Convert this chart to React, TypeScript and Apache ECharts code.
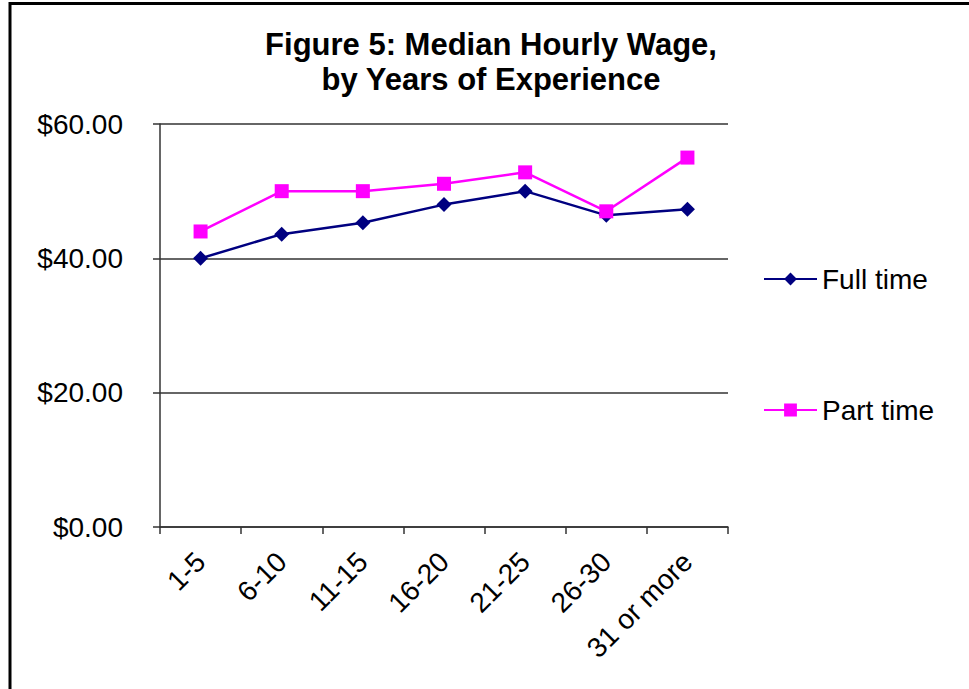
import React, { useEffect, useRef } from "react";
import * as echarts from "echarts";

const categories = ["1-5", "6-10", "11-15", "16-20", "21-25", "26-30", "31 or more"];
const fullTime = [40.0, 43.6, 45.3, 48.0, 50.0, 46.4, 47.3];
const partTime = [44.0, 50.0, 50.0, 51.1, 52.8, 47.0, 55.0];
const yTicks = [0, 20, 40, 60];
const titleText = "Figure 5: Median Hourly Wage,\nby Years of Experience";

const FONT = "'Liberation Sans', Arial, Helvetica, sans-serif";

export default function App() {
  const ref = useRef<HTMLDivElement>(null);
  useEffect(() => {
    if (!ref.current) return;
    const chart = echarts.init(ref.current, null, { renderer: "svg" });
    chart.setOption({
      animation: false,
      backgroundColor: "#ffffff",
      textStyle: { fontFamily: FONT },
      title: {
        text: titleText,
        left: 486,
        top: 22,
        textAlign: "center",
        textStyle: {
          fontFamily: FONT,
          fontSize: 31,
          fontWeight: "bold",
          color: "#000",
          lineHeight: 35,
        },
      },
      graphic: [
        {
          type: "rect",
          shape: { x: 10, y: 3.5, width: 1100, height: 1100 },
          style: { fill: "none", stroke: "#000", lineWidth: 3 },
          silent: true,
          z: 100,
        },
      ],
      legend: {
        orient: "vertical",
        left: 758,
        top: 259,
        itemGap: 101,
        itemWidth: 53,
        itemHeight: 16,
        textStyle: { fontFamily: FONT, fontSize: 28, color: "#000", lineHeight: 30 },
        data: ["Full time", "Part time"],
      },
      grid: { left: 160, top: 124, width: 568, height: 403, containLabel: false },
      xAxis: {
        type: "category",
        data: categories,
        boundaryGap: true,
        axisLine: { show: true, lineStyle: { color: "#333", width: 1.5 } },
        axisTick: { show: true, length: 7, lineStyle: { color: "#333", width: 1.5 } },
        axisLabel: {
          interval: 0,
          rotate: 45,
          margin: 30,
          fontSize: 28,
          color: "#000",
          fontFamily: FONT,
        },
        splitLine: { show: false },
      },
      yAxis: {
        type: "value",
        min: yTicks[0],
        max: yTicks[yTicks.length - 1],
        interval: 20,
        axisLine: { show: true, lineStyle: { color: "#333", width: 1.5 } },
        axisTick: { show: true, length: 7, lineStyle: { color: "#333", width: 1.5 } },
        axisLabel: {
          margin: 37,
          fontSize: 28,
          color: "#000",
          fontFamily: FONT,
          formatter: (v: number) => "$" + v.toFixed(2),
        },
        splitLine: { show: true, lineStyle: { color: "#333", width: 1.5 } },
      },
      series: [
        {
          name: "Full time",
          type: "line",
          data: fullTime,
          symbol: "diamond",
          symbolSize: 15,
          itemStyle: { color: "#000080" },
          lineStyle: { color: "#000080", width: 2.5 },
        },
        {
          name: "Part time",
          type: "line",
          data: partTime,
          symbol: "rect",
          symbolSize: 14,
          itemStyle: { color: "#FF00FF" },
          lineStyle: { color: "#FF00FF", width: 2.5 },
        },
      ],
    });
    return () => chart.dispose();
  }, []);
  return (
    <div
      ref={ref}
      style={{ position: "absolute", left: 0, top: 0, width: 969, height: 689 }}
    />
  );
}
